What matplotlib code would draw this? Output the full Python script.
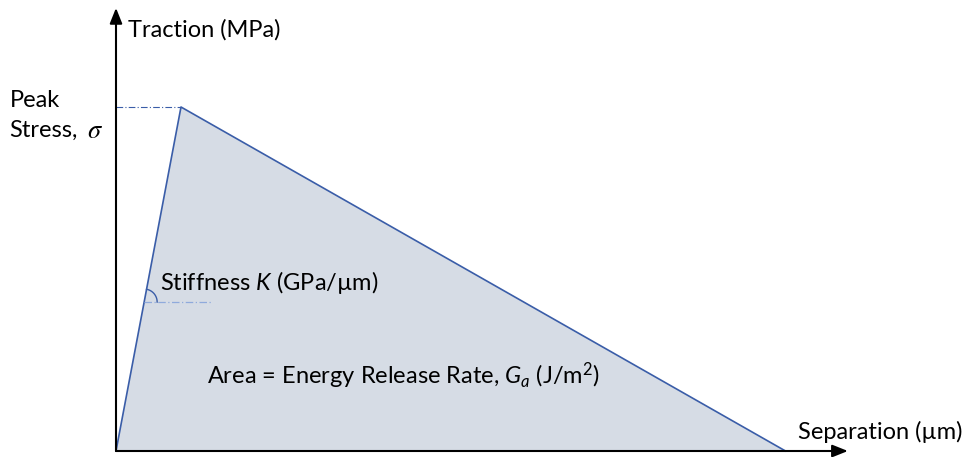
import matplotlib.pyplot as plt
import numpy as np

# bilinear traction-separation law
separation = [0.0, 1.0, 10.3]
traction = [0.0, 1.0, 0.0]
stiffness_mark = 0.433  # traction level where the stiffness angle is drawn

plt.rcParams.update(
    {
        "font.family": "Lato",
        "mathtext.fontset": "custom",
        "mathtext.rm": "Lato",
        "mathtext.it": "Lato:italic",
        "font.size": 17,
    }
)

fig = plt.figure(figsize=(9.73, 4.57), dpi=100)
ax = fig.add_axes([0, 0, 1, 1])
ax.set_xlim(-116 / 65, (973 - 116) / 65)
ax.set_ylim(-6 / 344, 451 / 344)
ax.axis("off")

fill_color = "#D6DCE5"
line_color = "#3A5DA8"
guide_color = "#8FAADC"

ax.fill(separation, traction, color=fill_color, lw=0)
ax.plot(separation, traction, color=line_color, lw=1.2)

# guides
ax.plot([0, separation[1]], [traction[1], traction[1]], color=line_color, lw=0.8, dashes=(6, 2, 1, 2))
x_k = stiffness_mark * separation[1] / traction[1]
ax.plot([x_k, 1.48], [stiffness_mark, stiffness_mark], color=guide_color, lw=0.9, dashes=(6, 2, 1, 2))

# angle arc, round in pixel space
r_px = 13
ang = np.degrees(np.arctan2(traction[1] * 344, separation[1] * 65))
t = np.radians(np.linspace(0, ang, 40))
ax.plot(x_k + r_px * np.cos(t) / 65, stiffness_mark + r_px * np.sin(t) / 344, color=line_color, lw=1.0)

# axes arrows
arrow = dict(arrowstyle="-|>,head_length=0.55,head_width=0.22", color="black", lw=1.5, shrinkA=0, shrinkB=0)
ax.annotate("", xy=(0, 1.288), xytext=(0, 0), arrowprops=arrow)
ax.annotate("", xy=(11.26, 0), xytext=(0, 0), arrowprops=arrow)

ax.text(0.18, 1.224, "Traction (MPa)", ha="left", va="center")
ax.text(10.49, 0.055, "Separation (µm)", ha="left", va="center")
ax.text(-1.64, 1.02, "Peak", ha="left", va="center")
ax.text(-1.64, 0.933, "Stress,", ha="left", va="center")
ax.text(-0.44, 0.933, r"$\sigma$", ha="left", va="center", math_fontfamily="stix", fontsize=19)
ax.text(0.68, 0.49, r"Stiffness $K$ (GPa/µm)", ha="left", va="center")
ax.text(1.4, 0.22, r"Area = Energy Release Rate, $G_a$ (J/m$^2$)", ha="left", va="center")

fig.savefig("out.png", dpi=100)
